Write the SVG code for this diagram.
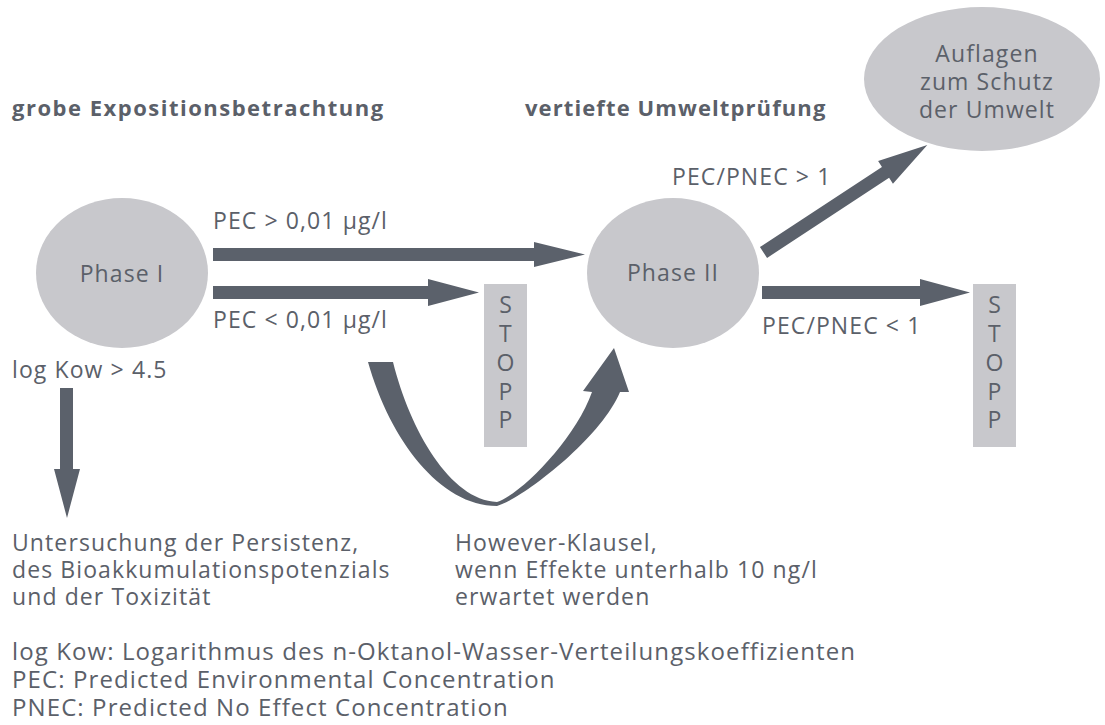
<svg xmlns="http://www.w3.org/2000/svg" width="1105" height="725" viewBox="0 0 1105 725">
<style>
text{font-family:"Open Sans","Noto Sans","DejaVu Sans",sans-serif;font-size:23px;fill:#5b6069;letter-spacing:1.1px}
.b{font-weight:700;font-size:22px;letter-spacing:1.5px}
.c{text-anchor:middle}
.f{font-size:24px;letter-spacing:1.1px}
.node{fill:#c8c8cc}
.arr{fill:#5b616b}
</style>
<rect width="1105" height="725" fill="#ffffff"/>
<g id="headers">
<text class="b" x="12" y="116">grobe Expositionsbetrachtung</text>
<text class="b" x="525" y="116" style="letter-spacing:1.1px">vertiefte Umweltprüfung</text>
</g>
<g id="phase1">
<ellipse class="node" cx="122" cy="273" rx="86" ry="75"/>
<text class="c" x="122" y="282">Phase I</text>
</g>
<g id="phase2">
<ellipse class="node" cx="673" cy="273" rx="86" ry="75"/>
<text class="c" x="673" y="281">Phase II</text>
</g>
<g id="auflagen">
<ellipse class="node" cx="982" cy="79" rx="118" ry="72"/>
<text class="c" x="987" y="62">Auflagen</text>
<text class="c" x="987" y="90">zum Schutz</text>
<text class="c" x="987" y="118">der Umwelt</text>
</g>
<g id="stopp1">
<rect class="node" x="484" y="284" width="43" height="163"/>
<text class="c" x="506" y="313">S</text>
<text class="c" x="506" y="342">T</text>
<text class="c" x="506" y="371">O</text>
<text class="c" x="506" y="400">P</text>
<text class="c" x="506" y="428">P</text>
</g>
<g id="stopp2">
<rect class="node" x="973" y="284" width="43" height="163"/>
<text class="c" x="995" y="313">S</text>
<text class="c" x="995" y="342">T</text>
<text class="c" x="995" y="371">O</text>
<text class="c" x="995" y="400">P</text>
<text class="c" x="995" y="428">P</text>
</g>
<g id="connectors">
<polygon class="arr" points="213,248 534,248 534,242 585,254.5 534,267 534,261 213,261"/>
<polygon class="arr" points="213,286 428,286 428,279 479,292.5 428,306 428,299 213,299"/>
<polygon class="arr" points="762,286 920,286 920,279 970,292.5 920,306 920,299 762,299"/>
<polygon class="arr" transform="translate(763.5,252.5) rotate(-33.3)" points="0,-6.5 146,-6.5 146,-13.5 196,0 146,13.5 146,6.5 0,6.5"/>
<polygon class="arr" points="60,388 73,388 73,469 80,469 67,518 54,469 60,469"/>
<path class="arr" d="M368,362 C390,440 440,506 497,506 C520,500 600,440 620,392 L629,392 L614,348 L583,391 L592,392 C575,440 520,495 497,502 C450,500 410,430 393,362 Z"/>
</g>
<g id="labels">
<text x="213" y="229">PEC &gt; 0,01 µg/l</text>
<text x="213" y="328">PEC &lt; 0,01 µg/l</text>
<text x="12" y="378">log Kow &gt; 4.5</text>
<text x="672" y="185">PEC/PNEC &gt; 1</text>
<text x="762" y="334">PEC/PNEC &lt; 1</text>
<text x="12" y="551">Untersuchung der Persistenz,</text>
<text x="12" y="578">des Bioakkumulationspotenzials</text>
<text x="12" y="605">und der Toxizität</text>
<text x="455" y="551">However-Klausel,</text>
<text x="455" y="578">wenn Effekte unterhalb 10 ng/l</text>
<text x="455" y="605">erwartet werden</text>
<text class="f" x="12" y="660">log Kow: Logarithmus des n-Oktanol-Wasser-Verteilungskoeffizienten</text>
<text class="f" x="12" y="688">PEC: Predicted Environmental Concentration</text>
<text class="f" x="12" y="716">PNEC: Predicted No Effect Concentration</text>
</g>
</svg>
